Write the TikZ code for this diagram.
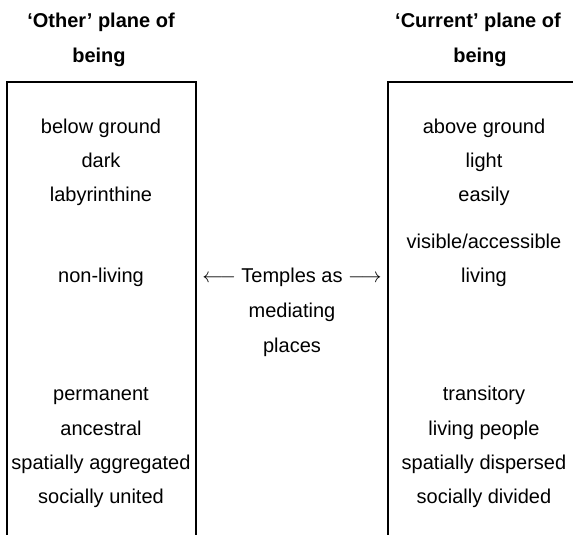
\documentclass[tikz,border=0pt]{standalone}
\usepackage{fontspec}
\setmainfont{Liberation Sans}
\begin{document}
\begin{tikzpicture}[x=1pt,y=-1pt]
\tikzstyle{every node}+=[inner sep=0pt,anchor=base,font=\fontsize{20}{24}\selectfont]
\tikzstyle{head}=[font=\fontsize{20}{24}\selectfont\bfseries]
\tikzstyle{frame}=[black,line width=1.7pt]
\useasboundingbox (0,0) rectangle (573,535);
% headings
\node [head] (otherA) at (101,28) {`Other' plane of};
\node [head] (otherB) at (99,63) {being};
\node [head] (currA) at (478,28) {`Current' plane of};
\node [head] (currB) at (480,63) {being};
% open boxes
\coordinate (lbl) at (7,535);
\coordinate (ltl) at (7,82);
\coordinate (ltr) at (196,82);
\coordinate (lbr) at (196,535);
\coordinate (rbl) at (388,535);
\coordinate (rtl) at (388,82);
\coordinate (rtr) at (573,82);
\draw [frame] (lbl) -- (ltl) -- (ltr) -- (lbr);
\draw [frame] (rbl) -- (rtl) -- (rtr);
% other plane
\node (below) at (101,133) {below ground};
\node (dark) at (101,167) {dark};
\node (laby) at (101,201) {labyrinthine};
\node (nonliv) at (101,282) {non-living};
\node (perm) at (101,400) {permanent};
\node (ances) at (101,435) {ancestral};
\node (aggr) at (101,469) {spatially aggregated};
\node (unit) at (101,503) {socially united};
% mediating
\node (templ) at (292,282) {$\longleftarrow$ Temples as $\longrightarrow$};
\node (medi) at (292,317) {mediating};
\node (plac) at (292,352) {places};
% current plane
\node (above) at (484,133) {above ground};
\node (light) at (484,167) {light};
\node (easy) at (484,201) {easily};
\node (visib) at (484,248) {visible/accessible};
\node (liv) at (484,282) {living};
\node (trans) at (484,400) {transitory};
\node (people) at (484,435) {living people};
\node (disp) at (484,469) {spatially dispersed};
\node (divid) at (484,503) {socially divided};
\end{tikzpicture}
\end{document}
